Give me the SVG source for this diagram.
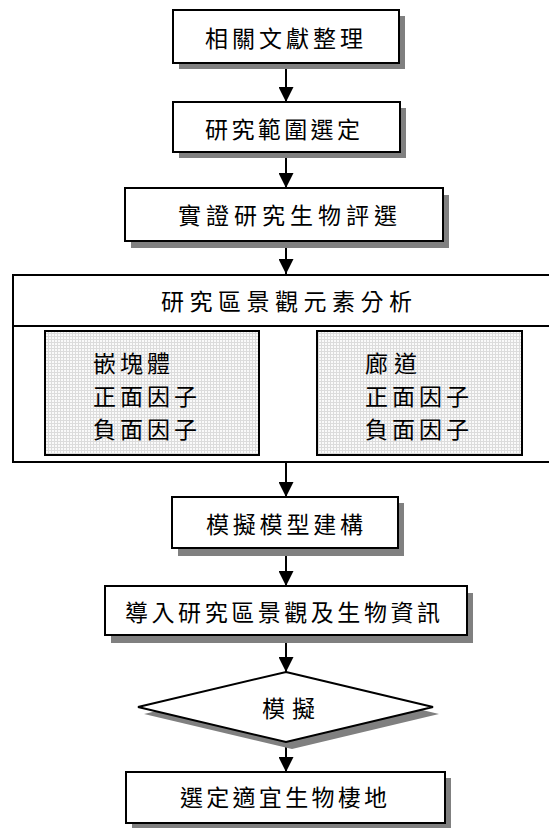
<svg xmlns="http://www.w3.org/2000/svg" width="549" height="828" viewBox="0 0 549 828">
<style>
.box{fill:#fff;stroke:#000;stroke-width:2}
.sh{fill:#808080}
.t{font-family:"Noto Sans CJK TC","Liberation Serif",serif;font-size:23px;fill:#000;dominant-baseline:central}
.c{text-anchor:middle}
.ln{stroke:#000;stroke-width:2;fill:none}
.inner{fill:url(#grid);stroke:#000;stroke-width:2}
</style>
<defs>
<pattern id="grid" width="3" height="3" patternUnits="userSpaceOnUse">
<rect width="3" height="3" fill="#fafafa"/>
<path d="M0 0.5H3M0.5 0V3" stroke="#dcdcdc" stroke-width="1"/>
</pattern>
<marker id="ah" viewBox="0 0 10 10" refX="10" refY="5" markerWidth="15" markerHeight="15" markerUnits="userSpaceOnUse" orient="auto">
<path d="M0 0L10 5L0 10z" fill="#000"/>
</marker>
</defs>
<g id="connectors">
<line class="ln" x1="286" y1="69" x2="286" y2="102" marker-end="url(#ah)"/>
<line class="ln" x1="286" y1="158" x2="286" y2="188" marker-end="url(#ah)"/>
<line class="ln" x1="286" y1="248" x2="286" y2="274" marker-end="url(#ah)"/>
<line class="ln" x1="286" y1="463" x2="286" y2="497" marker-end="url(#ah)"/>
<line class="ln" x1="286" y1="556" x2="286" y2="586" marker-end="url(#ah)"/>
<line class="ln" x1="286" y1="643" x2="286" y2="672" marker-end="url(#ah)"/>
<line class="ln" x1="286" y1="742" x2="286" y2="772" marker-end="url(#ah)"/>
</g>
<g id="n1">
<rect class="sh" x="179" y="16" width="226" height="53"/>
<rect class="box" x="173" y="10" width="226" height="53"/>
<text class="t" x="205" y="37" textLength="158" lengthAdjust="spacing">相關文獻整理</text>
</g>
<g id="n2">
<rect class="sh" x="179" y="108" width="227" height="50"/>
<rect class="box" x="173" y="102" width="227" height="50"/>
<text class="t" x="205" y="128" textLength="155" lengthAdjust="spacing">研究範圍選定</text>
</g>
<g id="n3">
<rect class="sh" x="131" y="195" width="318" height="53"/>
<rect class="box" x="125" y="188" width="318" height="53"/>
<text class="t" x="178" y="214" textLength="219" lengthAdjust="spacing">實證研究生物評選</text>
</g>
<g id="n4">
<rect class="box" x="13" y="275" width="540" height="187"/>
<line class="ln" x1="13" y1="326" x2="553" y2="326"/>
<text class="t" x="161" y="300" textLength="251" lengthAdjust="spacing">研究區景觀元素分析</text>
</g>
<g id="n4a">
<rect class="inner" x="45" y="331" width="214" height="124"/>
<text class="t" x="93" y="362" textLength="77" lengthAdjust="spacing">嵌塊體</text>
<text class="t" x="93" y="395" textLength="104" lengthAdjust="spacing">正面因子</text>
<text class="t" x="93" y="428" textLength="104" lengthAdjust="spacing">負面因子</text>
</g>
<g id="n4b">
<rect class="inner" x="317" y="331" width="205" height="124"/>
<text class="t" x="365" y="362" textLength="52" lengthAdjust="spacing">廊道</text>
<text class="t" x="365" y="395" textLength="104" lengthAdjust="spacing">正面因子</text>
<text class="t" x="365" y="428" textLength="104" lengthAdjust="spacing">負面因子</text>
</g>
<g id="n5">
<rect class="sh" x="178" y="503" width="226" height="53"/>
<rect class="box" x="172" y="497" width="226" height="51"/>
<text class="t" x="206" y="523" textLength="157" lengthAdjust="spacing">模擬模型建構</text>
</g>
<g id="n6">
<rect class="sh" x="111" y="593" width="362" height="50"/>
<rect class="box" x="105" y="586" width="362" height="49"/>
<text class="t" x="125" y="611" textLength="315" lengthAdjust="spacing">導入研究區景觀及生物資訊</text>
</g>
<g id="n7">
<polygon class="sh" points="292,679 439,714 292,749 144,714"/>
<polygon class="box" points="286,672 433,707 286,742 138,707"/>
<text class="t" x="262" y="707" textLength="53" lengthAdjust="spacing">模擬</text>
</g>
<g id="n8">
<rect class="sh" x="132" y="778" width="319" height="51"/>
<rect class="box" x="126" y="772" width="319" height="51"/>
<text class="t" x="180" y="796" textLength="207" lengthAdjust="spacing">選定適宜生物棲地</text>
</g>
</svg>
